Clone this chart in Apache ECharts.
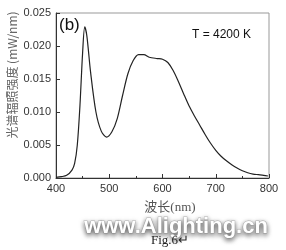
<!DOCTYPE html>
<html><head><meta charset="utf-8">
<script src="https://cdn.jsdelivr.net/npm/echarts@6/dist/echarts.min.js"></script>
<style>html,body{margin:0;padding:0;background:#fff}#c{width:286px;height:250px}</style>
</head><body><div id="c"></div>
<script>
const wavelengths = [400,410,420,430,435,440,445,450,454,458,465,475,485,495,505,515,525,535,545,555,565,575,590,600,610,620,630,640,650,660,670,680,690,700,710,720,730,740,750,760,770,780,790,798];
const irradiance = [0.0001,0.0002,0.0004,0.0012,0.0022,0.0050,0.0110,0.0190,0.0229,0.0215,0.0160,0.0100,0.0071,0.0062,0.0070,0.0090,0.0125,0.0158,0.0178,0.0187,0.0187,0.0183,0.0181,0.0180,0.0175,0.0163,0.0146,0.0127,0.0109,0.0094,0.0080,0.0066,0.0053,0.0042,0.0033,0.0026,0.0020,0.0015,0.0011,0.0008,0.0006,0.0005,0.0004,0.0003];
const xTicks = [400,500,600,700,800];
const yTicks = [0.000,0.005,0.010,0.015,0.020,0.025];
const xName = '波长(nm)';
const yName = '光谱辐照强度 (mW/nm)';
const panelLabel = '(b)';
const tempLabel = 'T = 4200 K';
const watermark = 'www.Alighting.cn';
const figLabel = 'Fig.6↵';

const chart = echarts.init(document.getElementById('c'));
chart.setOption({
  animation:false,
  grid:{left:56,right:17,top:13,bottom:72,show:true,borderColor:'#999',borderWidth:1},
  xAxis:{type:'value',min:xTicks[0],max:xTicks[xTicks.length-1],interval:100,
    axisLine:{lineStyle:{color:'#333'}},
    axisTick:{inside:true,length:4,lineStyle:{color:'#333'}},
    minorTick:{show:true,splitNumber:2,length:2,lineStyle:{color:'#333'}},
    splitLine:{show:false},
    axisLabel:{color:'#333',fontFamily:'Arial, Liberation Sans',fontSize:11,margin:5}},
  yAxis:{type:'value',min:yTicks[0],max:yTicks[yTicks.length-1],interval:0.005,
    axisLine:{show:true,lineStyle:{color:'#333'}},
    axisTick:{show:true,inside:true,length:4,lineStyle:{color:'#333'}},
    splitLine:{show:false},
    axisLabel:{color:'#333',fontFamily:'Arial, Liberation Sans',fontSize:11,margin:5,formatter:v=>v.toFixed(3)}},
  series:[{type:'line',data:wavelengths.map((w,i)=>[w,irradiance[i]]),smooth:0.3,showSymbol:false,
    lineStyle:{color:'#222',width:1.2}}],
  graphic:[
    {type:'text',left:59,top:17,style:{text:panelLabel,fill:'#111',font:'17px Arial, Liberation Sans'}},
    {type:'text',left:192,top:29,style:{text:tempLabel,fill:'#111',font:'12px Arial, Liberation Sans'}},
    {type:'text',x:12,y:75,rotation:Math.PI/2,style:{text:yName,fill:'#666',font:'12px "Noto Sans CJK SC", Arial',align:'center',verticalAlign:'middle'}},
    {type:'text',x:170,y:208,style:{text:xName,fill:'#555',font:'13px "Liberation Serif", "Noto Sans CJK SC"',align:'center',verticalAlign:'middle'}},
    {type:'text',x:176,y:227,style:{text:watermark,fill:'#fff',font:'bold 22px Arial, Liberation Sans',align:'center',verticalAlign:'middle',stroke:'#bbb',lineWidth:1,textShadowColor:'rgba(0,0,0,0.55)',textShadowBlur:5,textShadowOffsetY:2}},
    {type:'text',x:170,y:241,style:{text:figLabel,fill:'#222',font:'13px "Liberation Serif", serif',align:'center',verticalAlign:'middle'}}
  ]
});
</script></body></html>
